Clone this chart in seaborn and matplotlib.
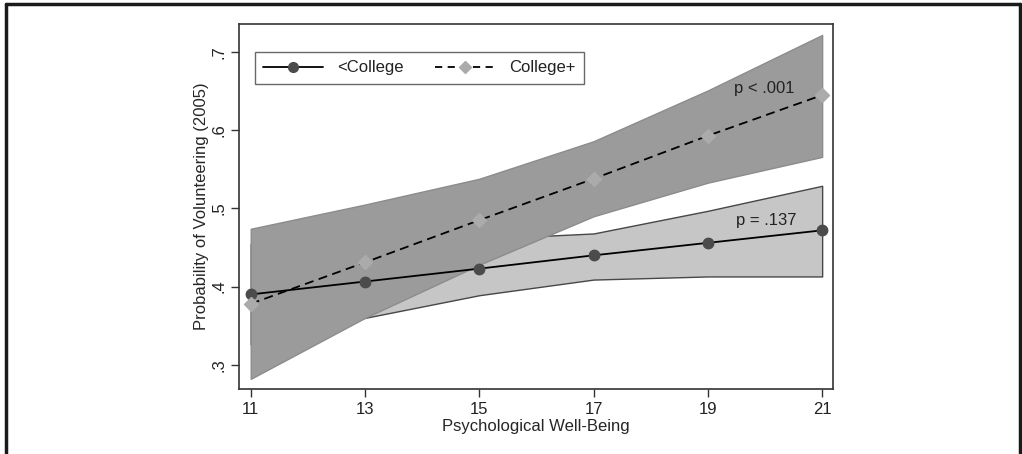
import numpy as np
import pandas as pd
import matplotlib
matplotlib.use("Agg")
import matplotlib.pyplot as plt
from matplotlib.lines import Line2D
import seaborn as sns

# Predicted probabilities by psychological well-being and education
wellbeing = [11, 13, 15, 17, 19, 21]
below_college = [0.390, 0.4065, 0.423, 0.440, 0.456, 0.472]
below_college_lo = [0.326, 0.360, 0.389, 0.409, 0.413, 0.413]
below_college_hi = [0.455, 0.453, 0.461, 0.468, 0.497, 0.529]
college_plus = [0.378, 0.431, 0.485, 0.538, 0.593, 0.645]
college_plus_lo = [0.282, 0.360, 0.428, 0.490, 0.533, 0.566]
college_plus_hi = [0.474, 0.505, 0.538, 0.586, 0.651, 0.722]
group_labels = ["<College", "College+"]
p_labels = ["p = .137", "p < .001"]
x_ticks = [11, 13, 15, 17, 19, 21]
y_ticks = [0.3, 0.4, 0.5, 0.6, 0.7]
y_tick_labels = [".3", ".4", ".5", ".6", ".7"]

sns.set_theme(style="white")
plt.rcParams["font.family"] = ["Liberation Sans", "DejaVu Sans"]
plt.rcParams["text.color"] = "#222222"

df = pd.DataFrame({
    "wellbeing": wellbeing * 2,
    "prob": below_college + college_plus,
    "group": [group_labels[0]] * 6 + [group_labels[1]] * 6,
})

fig = plt.figure(figsize=(10.22, 4.54), dpi=100)
ax = fig.add_axes([239 / 1022, 65 / 454, (833 - 239) / 1022, (389 - 24) / 454])

# confidence bands
ax.fill_between(wellbeing, below_college_lo, below_college_hi,
                facecolor="#c6c6c6", edgecolor="#474747", linewidth=1.0, zorder=1)
ax.fill_between(wellbeing, college_plus_lo, college_plus_hi,
                facecolor="#9b9b9b", edgecolor="#8c8c8c", linewidth=1.0, zorder=2)

sns.lineplot(data=df, x="wellbeing", y="prob", hue="group", style="group",
             hue_order=group_labels, style_order=group_labels,
             palette={group_labels[0]: "black", group_labels[1]: "black"},
             dashes={group_labels[0]: "", group_labels[1]: (5, 3)},
             markers={group_labels[0]: "o", group_labels[1]: "D"},
             markersize=0, linewidth=1.3, legend=False, ax=ax, zorder=3)

# markers drawn separately so they keep their own fill colours
circle_color = "#4b4b4b"
diamond_color = "#ababab"
ax.plot(wellbeing, below_college, linestyle="none", marker="o", markersize=7.5,
        markerfacecolor=circle_color, markeredgecolor=circle_color, zorder=4)
ax.plot(wellbeing, college_plus, linestyle="none", marker="D", markersize=7,
        markerfacecolor=diamond_color, markeredgecolor=diamond_color, zorder=4)

ax.text(20.03, 0.485, p_labels[0], ha="center", va="center", fontsize=12)
ax.text(19.98, 0.654, p_labels[1], ha="center", va="center", fontsize=12)

ax.set_xlim(10.795, 21.19)
ax.set_ylim(0.269, 0.736)
ax.set_xticks(x_ticks)
ax.set_xticklabels([str(v) for v in x_ticks])
ax.set_yticks(y_ticks)
ax.set_yticklabels(y_tick_labels, rotation=90, va="center")
ax.tick_params(axis="both", direction="out", length=6, width=1, color="#333333",
               labelsize=12, labelcolor="#222222", pad=3,
               bottom=True, left=True)
ax.set_xlabel("Psychological Well-Being", fontsize=12, labelpad=2)
ax.set_ylabel("Probability of Volunteering (2005)", fontsize=12, labelpad=2)
for s in ax.spines.values():
    s.set_color("#333333")
    s.set_linewidth(1.2)

handles = [
    Line2D([], [], color="black", linewidth=1.3, marker="o", markersize=7,
           markerfacecolor=circle_color, markeredgecolor=circle_color),
    Line2D([], [], color="black", linewidth=1.3, linestyle=(0, (4, 3)), marker="D",
           markersize=6, markerfacecolor=diamond_color, markeredgecolor=diamond_color),
]
leg = ax.legend(handles, group_labels, ncol=2, loc="upper left",
                bbox_to_anchor=(16 / 594, 1 - 28 / 365), frameon=True, fancybox=False,
                edgecolor="#444444", fontsize=12, handlelength=3.6, columnspacing=1.85,
                borderpad=0.5, handletextpad=0.85, borderaxespad=0)
leg.get_frame().set_linewidth(1.0)

# outer frame around the figure (left, top, right)
for xs, ys in [([6 / 1022, 6 / 1022], [0, 1 - 4 / 454]),
               ([6 / 1022, 1019.5 / 1022], [1 - 4 / 454, 1 - 4 / 454]),
               ([1019.5 / 1022, 1019.5 / 1022], [0, 1 - 4 / 454])]:
    fig.add_artist(Line2D(xs, ys, transform=fig.transFigure, color="#1a1a1a",
                          linewidth=2.5))

fig.savefig("out.png", dpi=100)
